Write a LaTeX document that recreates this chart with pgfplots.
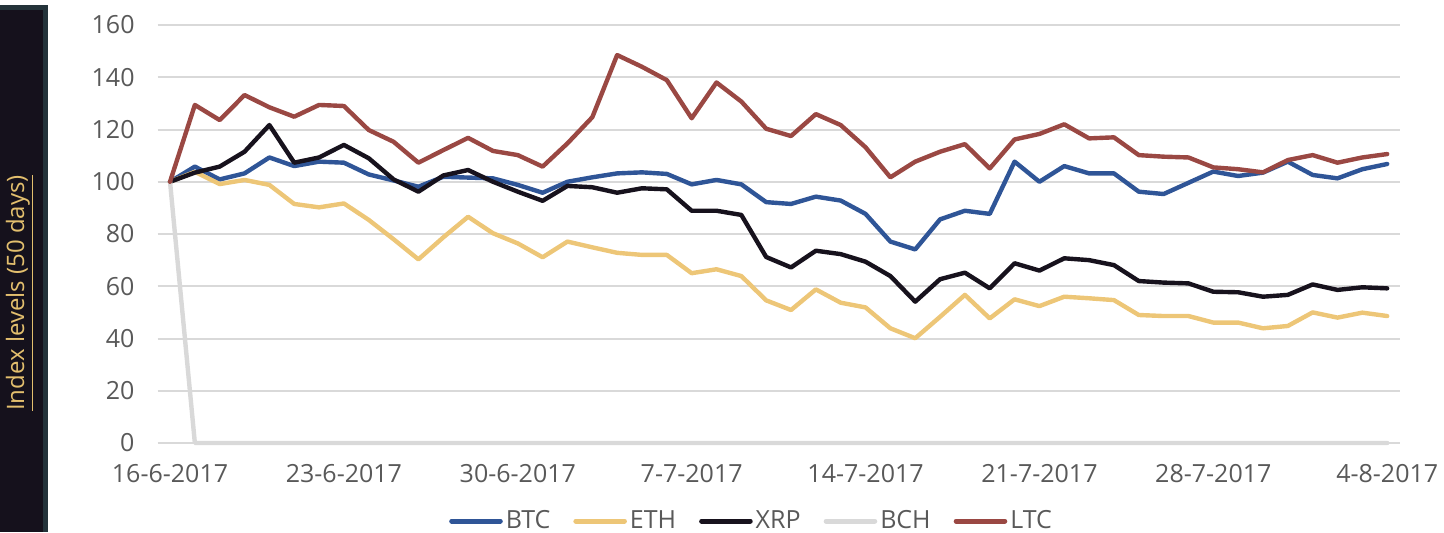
\documentclass[border=0pt]{standalone}
\usepackage{fontspec}
\setmainfont{Open Sans}
\usepackage{pgfplots}
\usepackage{pgfplotstable}
\pgfplotsset{compat=1.18}
\definecolor{cBTC}{HTML}{2F5597}
\definecolor{cETH}{HTML}{EDC677}
\definecolor{cXRP}{HTML}{17121D}
\definecolor{cBCH}{HTML}{D9D9D9}
\definecolor{cLTC}{HTML}{9A4843}
\definecolor{gridc}{HTML}{D9D9D9}
\definecolor{tickc}{HTML}{595959}
\definecolor{stripout}{HTML}{24333A}
\definecolor{stripin}{HTML}{15111C}
\definecolor{goldc}{HTML}{E3BF6E}
\pgfplotstableread{
x btc eth xrp bch ltc
0 100 100 100 100 100
1 105.8 103.8 103.5 0 129.4
2 100.9 99.1 105.8 0 123.6
3 103.2 100.7 111.5 0 133.2
4 109.3 98.8 121.7 0 128.5
5 106.0 91.5 107.3 0 124.9
6 107.7 90.2 109.3 0 129.4
7 107.3 91.7 114.1 0 129.0
8 102.8 85.4 109.0 0 119.8
9 100.5 78.0 100.9 0 115.3
10 98.1 70.3 96.2 0 107.3
11 101.9 78.7 102.4 0 112.1
12 101.6 86.6 104.5 0 116.8
13 101.3 80.3 100.0 0 111.8
14 98.8 76.4 96.2 0 110.2
15 95.8 71.1 92.7 0 105.8
16 100.0 77.1 98.4 0 114.7
17 101.7 74.9 97.9 0 124.7
18 103.2 72.8 95.8 0 148.5
19 103.6 72.0 97.5 0 144.0
20 103.0 72.0 97.1 0 138.9
21 99.0 65.0 88.9 0 124.3
22 100.7 66.5 88.9 0 138.0
23 99.0 63.9 87.3 0 130.7
24 92.2 54.6 71.2 0 120.3
25 91.5 50.9 67.2 0 117.5
26 94.3 58.8 73.6 0 125.9
27 92.8 53.7 72.3 0 121.7
28 87.7 51.9 69.4 0 113.2
29 77.1 43.9 63.9 0 101.7
30 74.1 40.1 54.1 0 107.7
31 85.6 48.3 62.7 0 111.5
32 88.9 56.7 65.2 0 114.4
33 87.7 47.7 59.2 0 105.1
34 107.7 55.0 68.8 0 116.2
35 100.0 52.4 66.0 0 118.3
36 106.0 56.0 70.7 0 122.0
37 103.2 55.4 70.0 0 116.6
38 103.2 54.7 68.1 0 117.0
39 96.2 49.0 62.0 0 110.2
40 95.3 48.6 61.4 0 109.6
41 99.6 48.6 61.1 0 109.3
42 103.9 46.1 57.9 0 105.5
43 102.2 46.1 57.7 0 104.8
44 103.5 43.9 56.0 0 103.6
45 107.7 44.8 56.7 0 108.3
46 102.6 50.0 60.7 0 110.2
47 101.3 48.0 58.6 0 107.3
48 104.8 49.9 59.6 0 109.3
49 106.8 48.6 59.2 0 110.6
}\data
\begin{document}
\begin{tikzpicture}
\fill[stripout] (-78.8pt,-44.5pt) rectangle (-54.8pt,219pt);
\fill[stripin] (-78.8pt,-44.5pt) rectangle (-57.3pt,216.5pt);
\node[rotate=90,text=goldc,font=\fontsize{12}{14}\selectfont] at (-68.8pt,75pt) {\underline{Index levels (50 days)}};
\begin{axis}[
  at={(0,0)}, anchor=south west,
  scale only axis, width=621pt, height=209pt,
  xmin=-0.5, xmax=49.5, ymin=0, ymax=160,
  clip=false,
  axis line style={draw=none},
  tick style={draw=none},
  ymajorgrids, grid style={gridc, line width=1pt},
  ytick={0,20,...,160},
  xtick={0,7,14,21,28,35,42,49},
  xticklabels={16-6-2017,23-6-2017,30-6-2017,7-7-2017,14-7-2017,21-7-2017,28-7-2017,4-8-2017},
  /pgf/number format/assume math mode=true,
  ticklabel style={font=\fontsize{12.5}{15}\selectfont, text=tickc},
  xticklabel style={yshift=-7pt},
  yticklabel style={xshift=-8pt},
  every axis plot/.append style={line width=2.2pt, line join=round, line cap=round},
  legend columns=5,
  legend style={draw=none, fill=none, at={(0.4786,-0.1866)}, anchor=center,
    font=\fontsize{12.5}{15}\selectfont, text=tickc,
    /tikz/every even column/.append style={column sep=10pt},
    nodes={inner sep=1.5pt}},
  legend image code/.code={\draw[#1,line width=2.5pt,line cap=round] (1.2pt,0pt) -- (25.5pt,0pt);},
]
\addplot[cBTC] table[x=x,y=btc] {\data};
\addlegendentry{BTC}
\addplot[cETH] table[x=x,y=eth] {\data};
\addlegendentry{ETH}
\addplot[cXRP] table[x=x,y=xrp] {\data};
\addlegendentry{XRP}
\addplot[cBCH] table[x=x,y=bch] {\data};
\addlegendentry{BCH}
\addplot[cLTC] table[x=x,y=ltc] {\data};
\addlegendentry{LTC}
\end{axis}
\pgfresetboundingbox
\path[use as bounding box] (-78.8pt,-44.5pt) rectangle (643.2pt,221.5pt);
\end{tikzpicture}
\end{document}
